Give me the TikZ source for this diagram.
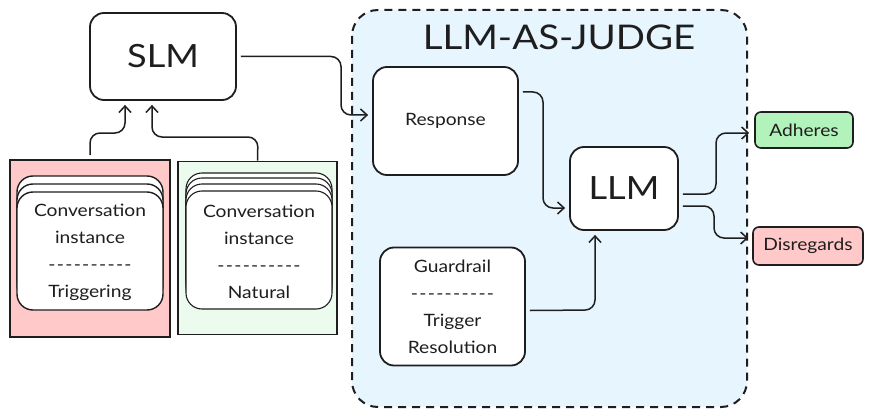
\documentclass[tikz,border=0pt]{standalone}
\usepackage{fontspec}
\setmainfont{Lato}[FakeStretch=1.13]
\usetikzlibrary{arrows.meta}
\definecolor{ink}{HTML}{1E1E1E}
\definecolor{redfill}{HTML}{FFC9C9}
\definecolor{greenfill}{HTML}{EBFBEE}
\definecolor{bluefill}{HTML}{E7F5FF}
\definecolor{adfill}{HTML}{B2F2BB}
\newcommand\hy{-\kern1.3pt}
\newcommand\dashrow{\hy\hy\hy\hy\hy\hy\hy\hy\hy-}
\begin{document}
\begin{tikzpicture}[x=1pt,y=-1pt,
  box/.style={draw=ink,line width=1.8pt,rounded corners=14pt,fill=white,text=ink,inner sep=0pt,align=center},
  panel/.style={draw=ink,line width=1.8pt,inner sep=0pt},
  card/.style={draw=ink,line width=1.4pt,rounded corners=16pt,fill=white},
  tag/.style={draw=ink,line width=1.6pt,rounded corners=6pt,text=ink,inner sep=0pt,font=\fontsize{17}{20}\selectfont},
  arr/.style={draw=ink,line width=1.5pt,rounded corners=10pt,-{Straight Barb[length=6.5pt,width=12pt,line width=1.5pt]}},
  cardtext/.style={text=ink,align=center,font=\fontsize{17}{27}\selectfont}
]
\useasboundingbox (0,0) rectangle (872,417);

% container
\draw[draw=ink,fill=bluefill,line width=2pt,dash pattern=on 8pt off 6pt,rounded corners=26pt] (352,10) rectangle (747,407);
\node[text=ink,font=\fontsize{34}{40}\selectfont] (title) at (559,37) {LLM-AS-JUDGE};

% SLM
\node[box,minimum width=146pt,minimum height=87pt,font=\fontsize{32}{38}\selectfont] (SLM) at (163,56.5) {SLM};

% panels
\node[panel,fill=redfill,minimum width=160pt,minimum height=177pt] (red) at (90,248.5) {};
\node[panel,fill=greenfill,minimum width=159pt,minimum height=173pt] (green) at (257.5,248) {};

% red stack
\draw[card] (17,176) rectangle (163,294);
\draw[card] (17,184) rectangle (163,302);
\draw[card] (17,192) rectangle (163,310);
\node[cardtext] (redtext) at (90,252) {Conversation\\instance\\\dashrow\\Triggering};

% green stack
\draw[card,line width=1.1pt] (186,173) rectangle (332,291);
\draw[card,line width=1.1pt] (186,178) rectangle (332,297);
\draw[card,line width=1.1pt] (186,184) rectangle (332,303);
\draw[card,line width=1.1pt] (186,191) rectangle (332,309);
\node[cardtext] (greentext) at (259,252) {Conversation\\instance\\\dashrow\\Natural};

% judge boxes
\node[box,minimum width=145pt,minimum height=108pt,font=\fontsize{17}{20}\selectfont] (Response) at (445.5,121) {Response};
\node[box,minimum width=108pt,minimum height=83pt,font=\fontsize{32}{38}\selectfont] (LLM) at (624,188.5) {LLM};
\node[box,minimum width=145pt,minimum height=118pt,font=\fontsize{17}{27}\selectfont] (Guard) at (452.5,306.5) {Guardrail\\\dashrow\\Trigger\\Resolution};

% outcomes
\node[tag,fill=adfill,minimum width=98pt,minimum height=36pt] (Adheres) at (804,130) {Adheres};
\node[tag,fill=redfill,minimum width=110pt,minimum height=38pt] (Disregards) at (808,246) {Disregards};

% connectors
\draw[arr] ([yshift=4pt]red.north) -- (90,133) -- (125,133) -- ([xshift=-38pt,yshift=-4pt]SLM.south);
\draw[arr] (green.north) -- (258,137) -- (152,137) -- ([xshift=-11pt,yshift=-4pt]SLM.south);
\draw[arr] ([xshift=4pt]SLM.east) -- (341,56.5) -- (341,115) -- ([xshift=-4pt,yshift=6pt]Response.west);
\draw[arr] ([xshift=4pt,yshift=29pt]Response.east) -- (543,92) -- (543,208) -- ([xshift=-4pt,yshift=-19.5pt]LLM.west);
\draw[arr] ([xshift=4pt,yshift=-4pt]Guard.east) -- (595,310) -- ([xshift=-29pt,yshift=-4pt]LLM.south);
\draw[arr] ([xshift=4pt,yshift=-5.5pt]LLM.east) -- (716,194) -- (716,133) -- ([xshift=-5pt,yshift=-3pt]Adheres.west);
\draw[arr] ([xshift=4pt,yshift=-17.5pt]LLM.east) -- (714,206) -- (714,238) -- ([xshift=-4pt,yshift=8pt]Disregards.west);
\end{tikzpicture}
\end{document}
